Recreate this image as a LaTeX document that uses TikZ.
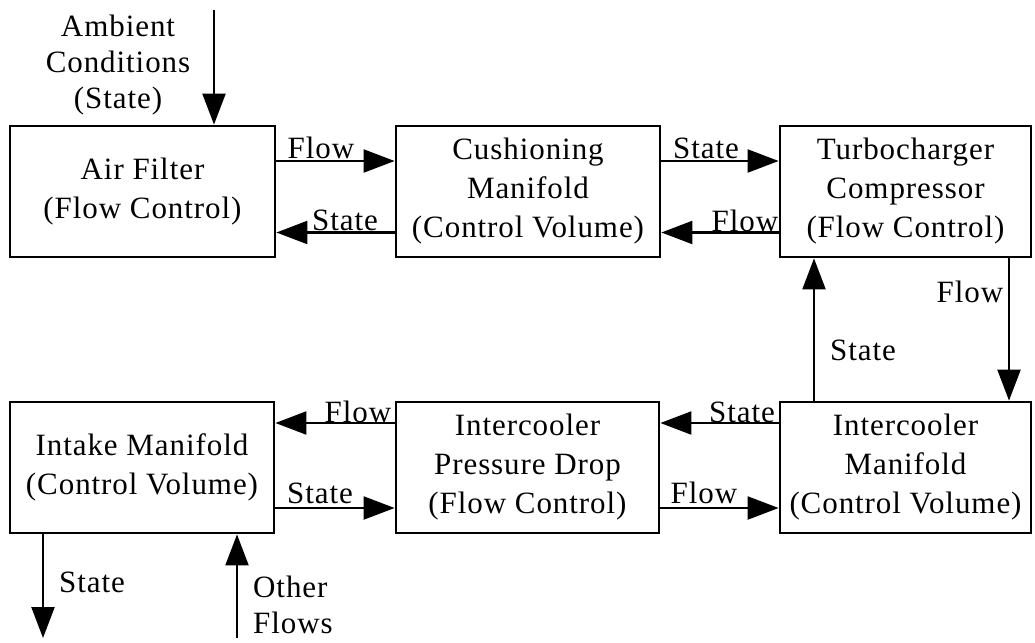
\documentclass[tikz,border=0pt]{standalone}
\usepackage{fontspec}
\setmainfont{Liberation Serif}[LetterSpace=3]
\usetikzlibrary{arrows.meta}
\begin{document}
\begin{tikzpicture}[x=1pt,y=-1pt,
  blk/.style={draw, line width=2.8pt, inner sep=0pt, align=center,
              minimum height=131pt, font=\fontsize{31}{39}\selectfont},
  lbl/.style={inner sep=0pt, font=\fontsize{31}{36}\selectfont},
  conn/.style={line width=2.2pt, -{Triangle[length=31pt,width=23pt]}}]
\useasboundingbox (0,0) rectangle (1035,642);

% blocks
\node[blk, minimum width=265pt] (af)  at (142.5,191.5) {Air Filter\\(Flow Control)};
\node[blk, minimum width=264pt] (cm)  at (528,191.5)   {Cushioning\\Manifold\\(Control Volume)};
\node[blk, minimum width=251pt] (tc)  at (905.5,191.5) {Turbocharger\\Compressor\\(Flow Control)};
\node[blk, minimum width=264pt] (im)  at (142,467.5)   {Intake Manifold\\(Control Volume)};
\node[blk, minimum width=263pt] (ipd) at (527.5,467.5) {Intercooler\\Pressure Drop\\(Flow Control)};
\node[blk, minimum width=251pt] (icm) at (905.5,467.5) {Intercooler\\Manifold\\(Control Volume)};

% rows and columns of the connectors
\coordinate (r1) at (0,161);
\coordinate (r2) at (0,232.5);
\coordinate (r3) at (0,423);
\coordinate (r4) at (0,508);
\coordinate (c1) at (814,0);
\coordinate (c2) at (1009,0);
\coordinate (amb)  at (214,10);
\coordinate (sout) at (43,638);
\coordinate (oin)  at (237,638);

% upper row
\draw[conn] (af.east |- r1) -- (cm.west |- r1);
\draw[conn] (cm.west |- r2) -- (af.east |- r2);
\draw[conn] (cm.east |- r1) -- (tc.west |- r1);
\draw[conn] (tc.west |- r2) -- (cm.east |- r2);
% right column
\draw[conn] (tc.south -| c2) -- (icm.north -| c2);
\draw[conn] (icm.north -| c1) -- (tc.south -| c1);
% lower row
\draw[conn] (icm.west |- r3) -- (ipd.east |- r3);
\draw[conn] (ipd.east |- r4) -- (icm.west |- r4);
\draw[conn] (ipd.west |- r3) -- (im.east |- r3);
\draw[conn] (im.east |- r4) -- (ipd.west |- r4);
% external inputs and outputs
\draw[conn] (amb) -- (af.north -| amb);
\draw[conn] (im.south -| sout) -- (sout);
\draw[conn] (oin) -- (im.south -| oin);

% labels
\node[lbl, align=center] (tamb) at (118,65) {Ambient\\Conditions\\(State)};
\node[lbl] (l1)  at (321,148) {Flow};
\node[lbl] (l2)  at (345,220) {State};
\node[lbl] (l3)  at (706,148) {State};
\node[lbl] (l4)  at (745,221) {Flow};
\node[lbl] (l5)  at (970,292) {Flow};
\node[lbl] (l6)  at (863,350) {State};
\node[lbl] (l7)  at (742,412) {State};
\node[lbl] (l8)  at (704,493) {Flow};
\node[lbl] (l9)  at (358,412) {Flow};
\node[lbl] (l10) at (320,493) {State};
\node[lbl] (l11) at (92,582) {State};
\node[lbl, align=left, anchor=west] (tof) at (253,605) {Other\\Flows};
\end{tikzpicture}
\end{document}
